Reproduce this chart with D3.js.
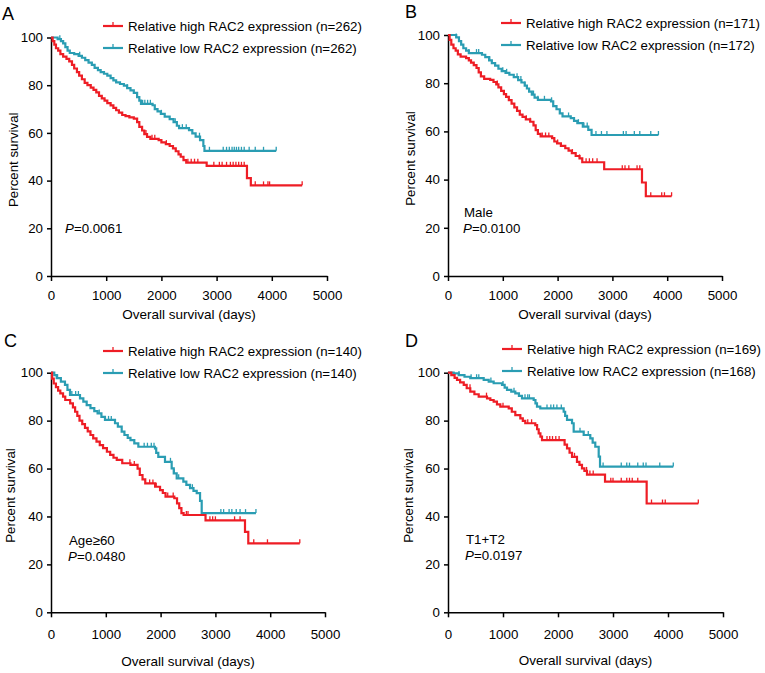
<!DOCTYPE html>
<html>
<head>
<meta charset="utf-8">
<script src="https://cdn.jsdelivr.net/npm/d3@7"></script>
<style>
  body { margin: 0; background: #fff; }
  text { font-family: "Liberation Sans", Arial, Helvetica, sans-serif; }
  .axis path, .axis line { stroke: #000; stroke-width: 1.5px; }
  .axis text { font-size: 13.3px; fill: #000; }
</style>
</head>
<body>
<svg id="km"></svg>
<script>
// Axis ticks shared by all four panels
const xTicks = [0, 1000, 2000, 3000, 4000, 5000];
const yTicks = [0, 20, 40, 60, 80, 100];

// Survival steps [day, percent]
const aHigh = [[0,100],[30,98.5],[60,97],[90,95.5],[130,94.5],[170,93],[220,92],[280,91],[330,90],[380,88.5],[420,87],[470,85.5],[510,84],[560,82.5],[610,81],[660,80],[720,79],[770,78],[820,77],[870,75.5],[920,74.5],[970,73.5],[1020,72.5],[1080,71.5],[1130,70.5],[1180,69.5],[1230,68.5],[1290,67.5],[1350,67],[1420,66.5],[1500,66],[1560,64.5],[1600,62.5],[1650,61],[1690,59.5],[1740,58.3],[1800,57.5],[1950,57],[2000,56],[2080,55.3],[2150,54.5],[2210,53.5],[2260,52.3],[2310,51],[2350,50],[2400,48.6],[2450,47.5],[2820,46.2],[3550,41],[3620,38],[4550,38]];
const aLow = [[0,100],[120,99.3],[180,98.5],[220,97.5],[260,96],[300,94.5],[340,93.5],[420,93],[500,92.3],[560,91.5],[620,90.5],[680,89.5],[740,88.5],[790,87.3],[850,86.3],[900,85.5],[960,84.8],[1020,84],[1080,83],[1130,82],[1180,81.2],[1250,80.5],[1320,79.8],[1380,78.8],[1440,77.8],[1500,76.8],[1560,75],[1600,73.5],[1630,72.2],[1840,71.6],[1880,70],[1930,69],[1990,68],[2060,66.8],[2150,65.8],[2220,64.5],[2280,63],[2320,62],[2500,61.2],[2560,59.8],[2620,58.4],[2700,57],[2760,54.5],[2780,52.5],[4080,52.5]];
const aHighCens = [1720,1830,1880,2090,2480,2540,2600,2660,2950,3050,3100,3180,3250,3300,3350,3400,3450,3500,3700,3850,3930,3960,4550];
const aLowCens = [160,520,1380,1660,1700,1750,1800,2000,2250,2380,2450,2690,2870,3120,3180,3230,3280,3320,3360,3400,3450,3500,3590,3700,3850,4080];

const bHigh = [[0,100],[30,98],[60,96],[100,94.5],[140,93.5],[180,92],[230,91],[330,90.4],[380,89.5],[420,88.5],[470,87.5],[520,86.3],[560,84.5],[600,82.8],[660,81.8],[770,81.4],[830,80.5],[880,79.5],[920,78.3],[970,76.8],[1020,75.5],[1060,74.3],[1110,73],[1160,71.5],[1210,70],[1260,68.5],[1310,67],[1360,66],[1420,65],[1500,64],[1560,62.5],[1600,60.5],[1640,59],[1690,57.9],[1900,57.2],[1940,55.8],[1990,55],[2060,54],[2140,53],[2200,52],[2260,51],[2330,49.8],[2400,48.8],[2450,47.2],[2850,44.3],[3540,38.8],[3610,33.1],[4080,33.1]];
const bLow = [[0,100],[150,99],[200,97.5],[240,96],[280,94.5],[330,93.5],[380,92.5],[620,91.8],[680,90.8],[750,89.5],[800,88.3],[860,87.3],[920,86],[980,85],[1050,84.3],[1120,83.5],[1200,82.5],[1280,81.3],[1340,80.3],[1400,79],[1440,77.8],[1480,76.5],[1530,75.3],[1580,74],[1640,73.1],[1880,72.5],[1920,70.5],[1980,69.2],[2040,67.5],[2090,66.2],[2240,65.5],[2300,64.4],[2360,63.4],[2460,62],[2560,60.6],[2620,58.5],[3840,58.5]];
const bHighCens = [900,1430,1500,1720,1780,1840,2000,2270,2400,2520,2580,2640,2720,3180,3230,3300,3450,3500,3700,3900,3950,4080];
const bLowCens = [150,380,520,560,760,1000,1070,1260,1330,1400,1560,1640,1760,1890,2200,2380,2480,2540,2700,2800,2900,3200,3250,3400,3500,3700,3840];

const cHigh = [[0,100],[20,97.5],[50,95.5],[90,94],[130,92.5],[170,91.4],[220,90],[260,88.6],[350,87.2],[400,85.5],[440,83.7],[480,82],[520,80],[570,78.5],[620,77],[670,75.5],[720,74],[770,72.6],[830,71.2],[890,69.8],[950,68.5],[1020,67],[1080,65.7],[1140,64.5],[1200,63.6],[1300,62.2],[1450,61.5],[1580,60],[1620,57.3],[1670,55.5],[1720,53.8],[1900,52.4],[1990,51],[2040,49.8],[2090,48.3],[2250,47.6],[2300,45.5],[2340,43.5],[2380,41.4],[2420,40.6],[2820,38.4],[3540,33.6],[3600,28.8],[4540,28.8]];
const cLow = [[0,100],[60,99],[104,97.7],[180,96.3],[255,94.9],[300,92.8],[347,90.7],[529,89.3],[590,87.9],[651,86.5],[720,85.2],[790,84],[850,83],[920,81.6],[985,80.3],[1168,78.9],[1220,77.5],[1290,75.4],[1340,74],[1400,72.8],[1450,71.9],[1520,70.5],[1594,69.1],[1898,68.4],[1920,66.5],[1958,64.9],[2080,62.8],[2202,60.1],[2240,58],[2294,55.9],[2415,54.5],[2470,53.2],[2537,51.8],[2600,50.7],[2659,49.7],[2720,46.5],[2750,41.4],[3740,41.4]];
const cHighCens = [1440,1520,1800,1860,1920,2130,2230,2470,2500,2900,2950,3000,3350,3450,3700,3950,4540];
const cLowCens = [120,380,450,500,880,1050,1100,1700,1760,1830,1880,2180,2250,2330,2580,3100,3150,3250,3300,3380,3450,3550,3740];

const dHigh = [[0,100],[60,99],[120,97.8],[164,97],[220,96],[286,94.9],[340,93.5],[405,92.1],[480,91],[558,90],[709,89.3],[770,88.6],[830,87.9],[890,86.8],[951,85.8],[1104,85.1],[1160,83.7],[1224,82.3],[1315,80.9],[1360,79.9],[1405,78.9],[1587,78.1],[1620,76.4],[1649,74.7],[1680,73.3],[1709,71.9],[2120,70],[2164,68.4],[2210,66.6],[2255,64.9],[2345,62.8],[2390,61.5],[2436,60.1],[2480,59],[2527,57.5],[2855,54.5],[3612,45.4],[4551,45.4]];
const dLow = [[0,100],[103,99.7],[195,99],[300,98.3],[405,97.7],[649,97],[740,96.3],[830,95.6],[982,94.9],[1030,93.8],[1073,92.8],[1150,92.1],[1224,91.4],[1290,90.3],[1345,89.3],[1558,88.6],[1590,87.2],[1618,85.8],[1678,85.1],[2103,83.7],[2130,82],[2164,80.3],[2255,78.9],[2285,75.4],[2467,74],[2587,72.6],[2630,70.8],[2678,69.1],[2740,65],[2764,60.8],[4096,60.8]];
const dHighCens = [400,700,1000,1450,1520,1800,1850,1900,1960,2020,2300,2520,2580,2640,2960,3000,3150,3250,3300,3350,3450,3700,3900,3950,4551];
const dLowCens = [200,420,520,560,780,1000,1200,1400,1450,1480,1800,1870,1920,1980,2060,2400,2550,2820,3150,3250,3300,3450,3550,3600,3850,4096];

// Legend n values and the note text of each panel
const letters = ["A", "B", "C", "D"];
const nHigh = [262, 171, 140, 169];
const nLow = [262, 172, 140, 168];
const subgroups = ["", "Male", "Age\u226560", "T1+T2"];
const pValues = ["0.0061", "0.0100", "0.0480", "0.0197"];

const red = "#ee1d25";
const teal = "#2a9db3";

// Where each panel sits on the page (plot box in px)
const layout = [
  {left: 51,  right: 327, top: 37.5, bottom: 276, tickGap: 19, titleGap: 38, yTitleX: 13,  legX: 103, legY: 26,  noteX: 65,  noteY: 233},
  {left: 448, right: 722, top: 35,   bottom: 276, tickGap: 19, titleGap: 38, yTitleX: 410, legX: 501, legY: 23,  noteX: 463, noteY: 233},
  {left: 51,  right: 325, top: 372.7, bottom: 612.3, tickGap: 22, titleGap: 49, yTitleX: 10, legX: 103, legY: 351, noteX: 68, noteY: 561},
  {left: 448, right: 723, top: 372.7, bottom: 612.3, tickGap: 22, titleGap: 48, yTitleX: 408, legX: 502, legY: 349, noteX: 465, noteY: 560}
];
const letterPos = [[2, 20], [405, 18], [4, 347], [405, 347]];

const series = [
  [aHigh, aLow, aHighCens, aLowCens],
  [bHigh, bLow, bHighCens, bLowCens],
  [cHigh, cLow, cHighCens, cLowCens],
  [dHigh, dLow, dHighCens, dLowCens]
];

let svg = d3.select("#km")
    .attr("width", 765)
    .attr("height", 673);

// value of a step curve at a given day
function stepAt(steps, day) {
    let v = steps[0][1];
    steps.forEach(function(s) { if (s[0] <= day) v = s[1]; });
    return v;
}

function drawPanel(i) {
    let L = layout[i];
    let x = d3.scaleLinear().domain([0, 5000]).range([L.left, L.right]);
    let y = d3.scaleLinear().domain([0, 100]).range([L.bottom, L.top]);
    let g = svg.append("g");

    // Add the x Axis
    let xAxis = g.append("g")
        .attr("class", "axis")
        .attr("transform", "translate(0," + L.bottom + ")")
        .call(d3.axisBottom(x).tickValues(xTicks).tickSize(5).tickSizeOuter(0).tickFormat(d3.format("d")));
    xAxis.selectAll("text").attr("dy", null).attr("y", L.tickGap + 4.5);

    // Add the y Axis
    let yAxis = g.append("g")
        .attr("class", "axis")
        .attr("transform", "translate(" + L.left + ",0)")
        .call(d3.axisLeft(y).tickValues(yTicks).tickSize(4).tickSizeOuter(0));
    yAxis.selectAll("text").attr("x", -8);

    // Axis titles
    g.append("text")
        .attr("x", (L.left + L.right) / 2)
        .attr("y", L.bottom + L.titleGap + 4.5)
        .attr("text-anchor", "middle")
        .style("font-size", "13.5px")
        .text("Overall survival (days)");
    g.append("text")
        .attr("transform", "translate(" + (L.yTitleX + 4.5) + "," + ((L.top + L.bottom) / 2 + 3) + ") rotate(-90)")
        .attr("text-anchor", "middle")
        .style("font-size", "13.3px")
        .text("Percent survival");

    // Panel letter
    g.append("text")
        .attr("x", letterPos[i][0])
        .attr("y", letterPos[i][1])
        .style("font-size", "18px")
        .text(letters[i]);

    // Survival curves, low drawn first so high sits on top
    let valueline = d3.line()
        .x(function(d) { return x(d[0]); })
        .y(function(d) { return y(d[1]); })
        .curve(d3.curveStepAfter);

    let s = series[i];
    [[s[1], s[3], teal], [s[0], s[2], red]].forEach(function(c) {
        g.append("path")
            .datum(c[0])
            .attr("fill", "none")
            .attr("stroke", c[2])
            .attr("stroke-width", 2.2)
            .attr("d", valueline);
        g.selectAll(null)
            .data(c[1])
            .enter().append("line")
            .attr("x1", function(d) { return x(d); })
            .attr("x2", function(d) { return x(d); })
            .attr("y1", function(d) { return y(stepAt(c[0], d)); })
            .attr("y2", function(d) { return y(stepAt(c[0], d)) - 4; })
            .attr("stroke", c[2])
            .attr("stroke-width", 1.3);
    });

    // Legend
    let items = [
        {color: red, label: "Relative high RAC2 expression (n=" + nHigh[i] + ")"},
        {color: teal, label: "Relative low RAC2 expression (n=" + nLow[i] + ")"}
    ];
    items.forEach(function(it, k) {
        let ly = L.legY + k * 22;
        g.append("line")
            .attr("x1", L.legX).attr("x2", L.legX + 20)
            .attr("y1", ly).attr("y2", ly)
            .attr("stroke", it.color).attr("stroke-width", 2.2);
        g.append("line")
            .attr("x1", L.legX + 10).attr("x2", L.legX + 10)
            .attr("y1", ly).attr("y2", ly - 4)
            .attr("stroke", it.color).attr("stroke-width", 1.3);
        g.append("text")
            .attr("x", L.legX + 25)
            .attr("y", ly + 4.5)
            .style("font-size", "13.3px")
            .text(it.label);
    });

    // Subgroup and P value note
    if (subgroups[i] !== "") {
        g.append("text")
            .attr("x", L.noteX + 1)
            .attr("y", L.noteY - 16)
            .style("font-size", "13.3px")
            .text(subgroups[i]);
    }
    let p = g.append("text")
        .attr("x", L.noteX)
        .attr("y", L.noteY)
        .style("font-size", "13.3px");
    p.append("tspan").style("font-style", "italic").text("P");
    p.append("tspan").text("=" + pValues[i]);
}

[0, 1, 2, 3].forEach(drawPanel);
</script>
</body>
</html>
